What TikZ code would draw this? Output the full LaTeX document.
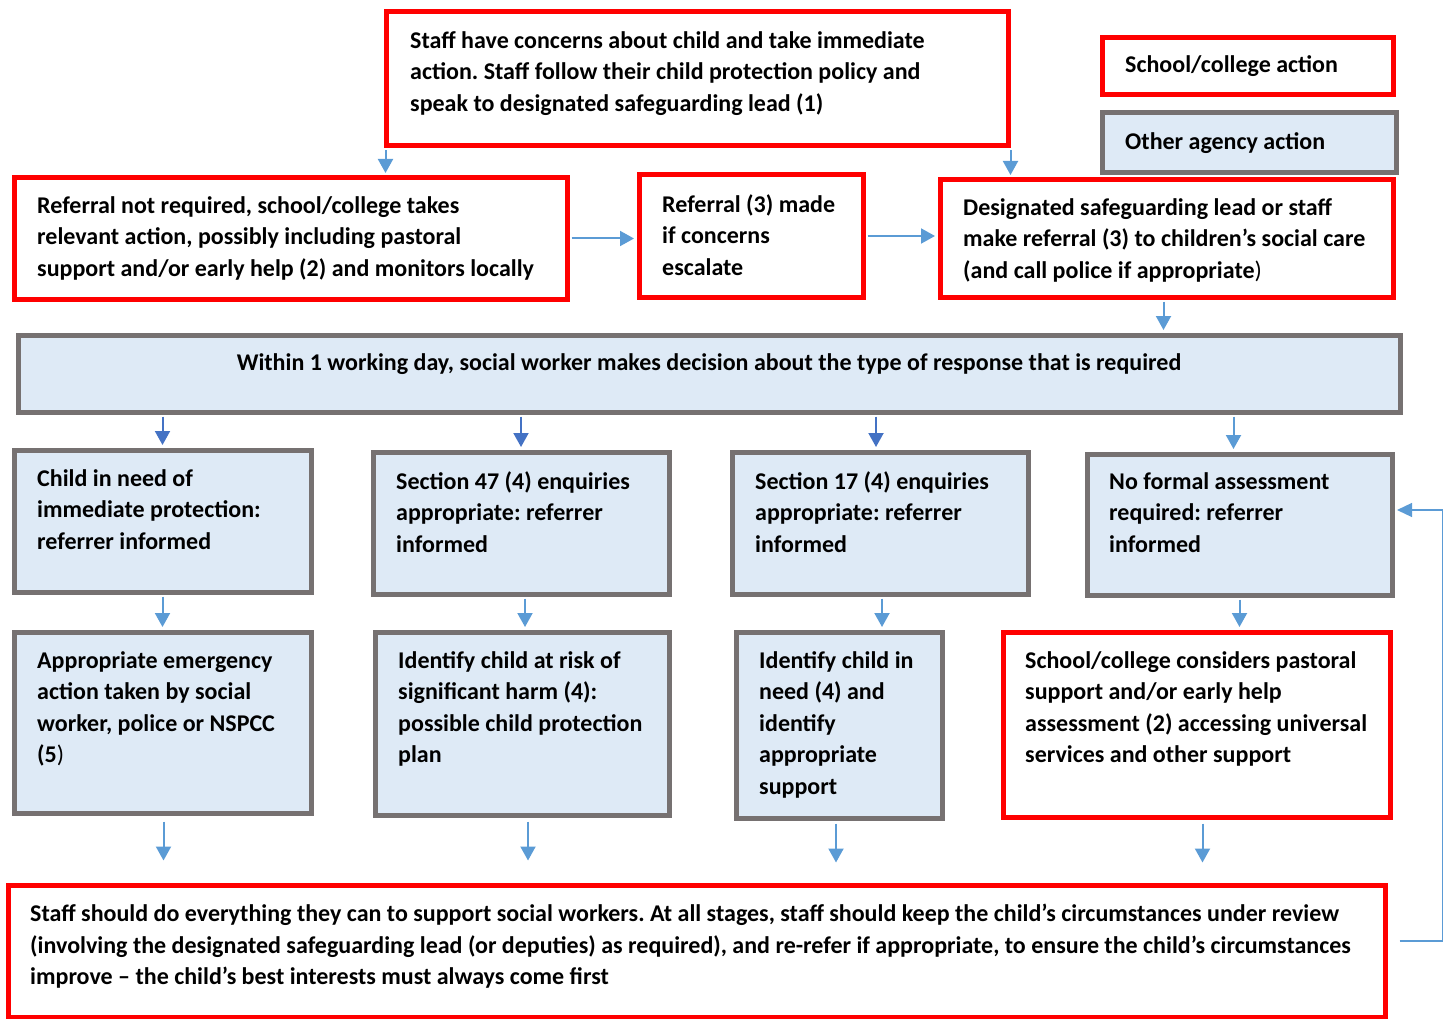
\documentclass[tikz,border=0pt]{standalone}
\usepackage{fontspec}
\setmainfont{Carlito}
\usetikzlibrary{arrows.meta,fit}
\definecolor{rd}{HTML}{FF0000}
\definecolor{gr}{HTML}{767171}
\definecolor{lb}{HTML}{DEEAF6}
\definecolor{ab}{HTML}{5B9BD5}
\definecolor{db}{HTML}{4472C4}
\frenchspacing
\begin{document}
\begin{tikzpicture}[x=1pt,y=-1pt,
 redbox/.style={draw=rd,line width=5pt,fill=white,inner sep=0pt},
 graybox/.style={draw=gr,line width=5pt,fill=lb,inner sep=0pt},
 txt/.style={anchor=north west,inner sep=0pt,align=left,font=\fontsize{24}{31.5}\selectfont\bfseries},
 arr/.style={draw=ab,line width=2pt,-{Triangle[length=14pt,width=15pt]},shorten >=2.5pt},
 darr/.style={draw=db,line width=2pt,-{Triangle[length=14pt,width=15pt]},shorten >=2.5pt},
 farr/.style={draw=ab,line width=1.3pt,-{Triangle[length=15pt,width=14pt]},shorten >=2.5pt}]
\useasboundingbox (0,0) rectangle (1446,1019);
% boxes
\node[redbox,fit={(386,12)(1008,146)}] (b1) {};
\node[redbox,fit={(1102,38)(1393,95)}] (b2) {};
\node[graybox,fit={(1102,113)(1396,173)}] (b3) {};
\node[redbox,fit={(14,178)(567,299)}] (b4) {};
\node[redbox,fit={(639,175)(863,297)}] (b5) {};
\node[redbox,fit={(940,180)(1393,297)}] (b6) {};
\node[graybox,fit={(18,335)(1400,412)}] (b7) {};
\node[graybox,fit={(14,450)(311,592)}] (b8) {};
\node[graybox,fit={(373,452)(669,594)}] (b9) {};
\node[graybox,fit={(732,452)(1028,594)}] (b10) {};
\node[graybox,fit={(1087,454)(1392,595)}] (b11) {};
\node[graybox,fit={(14,632)(311,813)}] (b12) {};
\node[graybox,fit={(375,632)(669,815)}] (b13) {};
\node[graybox,fit={(736,632)(942,818)}] (b14) {};
\node[redbox,fit={(1003,632)(1390,817)}] (b15) {};
\node[redbox,fit={(8,885)(1385,1017)}] (b16) {};
% texts
\node[txt] (t1) at (410,31) {Staff have concerns about child and take immediate\\action. Staff follow their child protection policy and\\speak to designated safeguarding lead (1)};
\node[txt] (t2) at (1125,55) {School/college action};
\node[txt] (t3) at (1125,132) {Other agency action};
\node[txt] (t4) at (37,196) {Referral not required, school/college takes\\relevant action, possibly including pastoral\\support and/or early help (2) and monitors locally};
\node[txt] (t5) at (662,194) {Referral (3) made\\if concerns\\escalate};
\node[txt] (t6) at (963,198) {Designated safeguarding lead or staff\\make referral (3) to children’s social care\\(and call police if appropriate{\mdseries)}};
\node[txt,anchor=north] (t7) at (709,353) {Within 1 working day, social worker makes decision about the type of response that is required};
\node[txt] (t8) at (37,469) {Child in need of\\immediate protection:\\referrer informed};
\node[txt] (t9) at (396,471) {Section 47 (4) enquiries\\appropriate: referrer\\informed};
\node[txt] (t10) at (755,471) {Section 17 (4) enquiries\\appropriate: referrer\\informed};
\node[txt] (t11) at (1109,472) {No formal assessment\\required: referrer\\informed};
\node[txt] (t12) at (37,651) {Appropriate emergency\\action taken by social\\worker, police or NSPCC\\(5{\mdseries)}};
\node[txt] (t13) at (398,651) {Identify child at risk of\\significant harm (4):\\possible child protection\\plan};
\node[txt] (t14) at (759,651) {Identify child in\\need (4) and\\identify\\appropriate\\support};
\node[txt] (t15) at (1025,651) {School/college considers pastoral\\support and/or early help\\assessment (2) accessing universal\\services and other support};
\node[txt] (t16) at (30,904) {Staff should do everything they can to support social workers. At all stages, staff should keep the child’s circumstances under review\\(involving the designated safeguarding lead (or deputies) as required), and re-refer if appropriate, to ensure the child’s circumstances\\improve – the child’s best interests must always come first};
% connectors
\draw[arr] ([xshift=2pt,yshift=-2pt]b1.south west) -- ([xshift=2pt]b1.south west |- b4.north);
\draw[arr] ([yshift=-2pt]b1.south east) -- (b1.south east |- b6.north);
\draw[arr] ([xshift=2pt]b4.east) -- (b4.east -| b5.west);
\draw[arr] ([xshift=2pt]b5.east) -- (b5.east -| b6.west);
\draw[arr] ([xshift=-3pt,yshift=-2pt]b6.south) -- ([xshift=-3pt]b6.south |- b7.north);
\draw[darr] ([yshift=-2pt]b8.north |- b7.south) -- (b8.north);
\draw[darr] ([yshift=-2pt]b9.north |- b7.south) -- (b9.north);
\draw[darr] ([xshift=-4pt,yshift=-2pt]b10.north |- b7.south) -- ([xshift=-4pt]b10.north);
\draw[arr] ([xshift=-6pt,yshift=-2pt]b11.north |- b7.south) -- ([xshift=-6pt]b11.north);
\draw[arr] ([yshift=-2pt]b8.south) -- (b8.south |- b12.north);
\draw[arr] ([xshift=4pt,yshift=-2pt]b9.south) -- ([xshift=4pt]b9.south |- b13.north);
\draw[arr] ([xshift=2pt,yshift=-2pt]b10.south) -- ([xshift=2pt]b10.south |- b14.north);
\draw[arr] ([yshift=-2pt]b11.south) -- (b11.south |- b15.north);
\coordinate (e12) at ([xshift=1pt,yshift=-45pt]b12.south);
\coordinate (e13) at ([xshift=6pt,yshift=-43pt]b13.south);
\coordinate (e14) at ([xshift=-3pt,yshift=-42pt]b14.south);
\coordinate (e15) at ([xshift=6pt,yshift=-43pt]b15.south);
\draw[arr,shorten >=0pt] ([xshift=1pt,yshift=-6pt]b12.south) -- (e12);
\draw[arr,shorten >=0pt] ([xshift=6pt,yshift=-4pt]b13.south) -- (e13);
\draw[arr,shorten >=0pt] ([xshift=-3pt,yshift=-3pt]b14.south) -- (e14);
\draw[arr,shorten >=0pt] ([xshift=6pt,yshift=-4pt]b15.south) -- (e15);
\draw[farr] ([xshift=12pt,yshift=10pt]b16.east) -| ([xshift=48pt,yshift=14.5pt]b11.east) -- ([yshift=14.5pt]b11.east);
\end{tikzpicture}
\end{document}
